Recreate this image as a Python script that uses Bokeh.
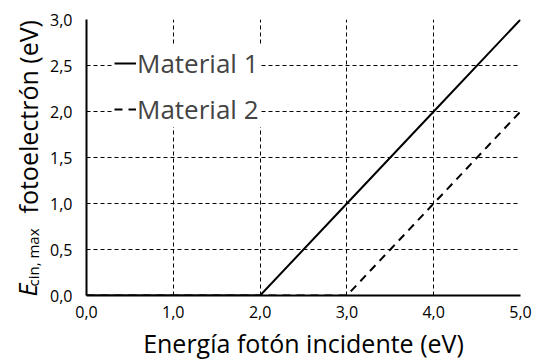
import math
from bokeh.plotting import figure
from bokeh.layouts import row
from bokeh.models import Range1d, FixedTicker, Legend, LegendItem
from bokeh.core.properties import value
from bokeh.embed import file_html
from bokeh.resources import INLINE

# data
energy = [0.0, 1.0, 2.0, 3.0, 4.0, 5.0]
material1 = [0.0, 0.0, 0.0, 1.0, 2.0, 3.0]
material2 = [0.0, 0.0, 0.0, 0.0, 1.0, 2.0]
x_ticks = [0.0, 1.0, 2.0, 3.0, 4.0, 5.0]
y_ticks = [0.0, 0.5, 1.0, 1.5, 2.0, 2.5, 3.0]
x_tick_labels = ["0,0", "1,0", "2,0", "3,0", "4,0", "5,0"]
y_tick_labels = ["0,0", "0,5", "1,0", "1,5", "2,0", "2,5", "3,0"]
x_title = "Energía fotón incidente (eV)"
y_title_symbol = "E"
y_title_sub = "cin, max"
y_title_rest = "fotoelectrón (eV)"

FONT = "Open Sans"
LW = 44          # width of the y-title strip
H = 363
TOP, BOTTOM = 19, 68          # borders of the main chart
FRAME_H = H - TOP - BOTTOM    # plot-area height in pixels
FRAME_B = H - BOTTOM          # plot-area bottom, pixels from top

# ---- y-axis title strip: its frame is aligned with the main plot area,
#      coordinates are pixels above the plot-area bottom ----
t = figure(width=LW, height=H, output_backend="svg", toolbar_location=None,
           x_range=Range1d(0, LW), y_range=Range1d(0, FRAME_H),
           min_border_left=0, min_border_right=0,
           min_border_top=TOP, min_border_bottom=BOTTOM)
t.title.visible = False
t.axis.visible = False
t.grid.visible = False
t.outline_line_color = None
t.background_fill_color = "white"
t.border_fill_color = "white"
t.text(x=[26], y=[FRAME_B - 296], text=[y_title_symbol], angle=math.pi / 2,
       text_font=value(FONT), text_font_size="25px", text_font_style="italic",
       text_align="left", text_baseline="alphabetic", text_color="black")
t.text(x=[32], y=[FRAME_B - 286], text=[y_title_sub], angle=math.pi / 2,
       text_font=value(FONT), text_font_size="15px",
       text_align="left", text_baseline="alphabetic", text_color="black")
t.text(x=[27], y=[FRAME_B - 213], text=[y_title_rest], angle=math.pi / 2,
       text_font=value(FONT), text_font_size="25px",
       text_align="left", text_baseline="alphabetic", text_color="black")

# ---- main chart ----
p = figure(width=547 - LW, height=H, output_backend="svg", toolbar_location=None,
           x_range=Range1d(0, 5), y_range=Range1d(0, 3),
           min_border_left=42, min_border_right=27, min_border_top=TOP, min_border_bottom=BOTTOM)
p.background_fill_color = "white"
p.border_fill_color = "white"
p.outline_line_color = None

# grid
p.xgrid.ticker = FixedTicker(ticks=x_ticks[1:])
p.ygrid.ticker = FixedTicker(ticks=y_ticks[1:])
for g in (p.xgrid, p.ygrid):
    g.grid_line_color = "black"
    g.grid_line_dash = "4 3"
    g.grid_line_width = 1
    g.grid_line_alpha = 1.0

# axes
p.xaxis.ticker = FixedTicker(ticks=x_ticks)
p.yaxis.ticker = FixedTicker(ticks=y_ticks)
p.xaxis.major_label_overrides = {tk: s for tk, s in zip(x_ticks, x_tick_labels)}
p.yaxis.major_label_overrides = {tk: s for tk, s in zip(y_ticks, y_tick_labels)}
for ax in (p.xaxis, p.yaxis):
    ax.axis_line_color = "black"
    ax.axis_line_width = 2
    ax.major_tick_out = 0
    ax.major_tick_in = 0
    ax.minor_tick_out = 0
    ax.minor_tick_in = 0
    ax.major_label_text_font = FONT
    ax.major_label_text_font_size = "16px"
    ax.major_label_text_color = "black"
p.xaxis.major_label_standoff = 10
p.yaxis.major_label_standoff = 14
p.xaxis.axis_label = x_title
p.xaxis.axis_label_text_font = FONT
p.xaxis.axis_label_text_font_size = "25px"
p.xaxis.axis_label_text_font_style = "normal"
p.xaxis.axis_label_text_color = "black"
p.xaxis.axis_label_standoff = 5

# lines
r1 = p.line(energy, material1, line_color="black", line_width=2)
r2 = p.line(energy, material2, line_color="black", line_width=2, line_dash="8 6")

legend = Legend(items=[LegendItem(label="Material 1", renderers=[r1]),
                       LegendItem(label="Material 2", renderers=[r2])],
                location=(28, 168), background_fill_color="white", background_fill_alpha=1.0,
                border_line_color=None, label_text_font=FONT, label_text_font_size="26px",
                glyph_width=22, label_standoff=1, spacing=10, padding=10, margin=0,
                label_width=124)
p.add_layout(legend, "center")

layout = row(t, p, spacing=0)
open("out.html", "w").write(file_html(layout, INLINE))
